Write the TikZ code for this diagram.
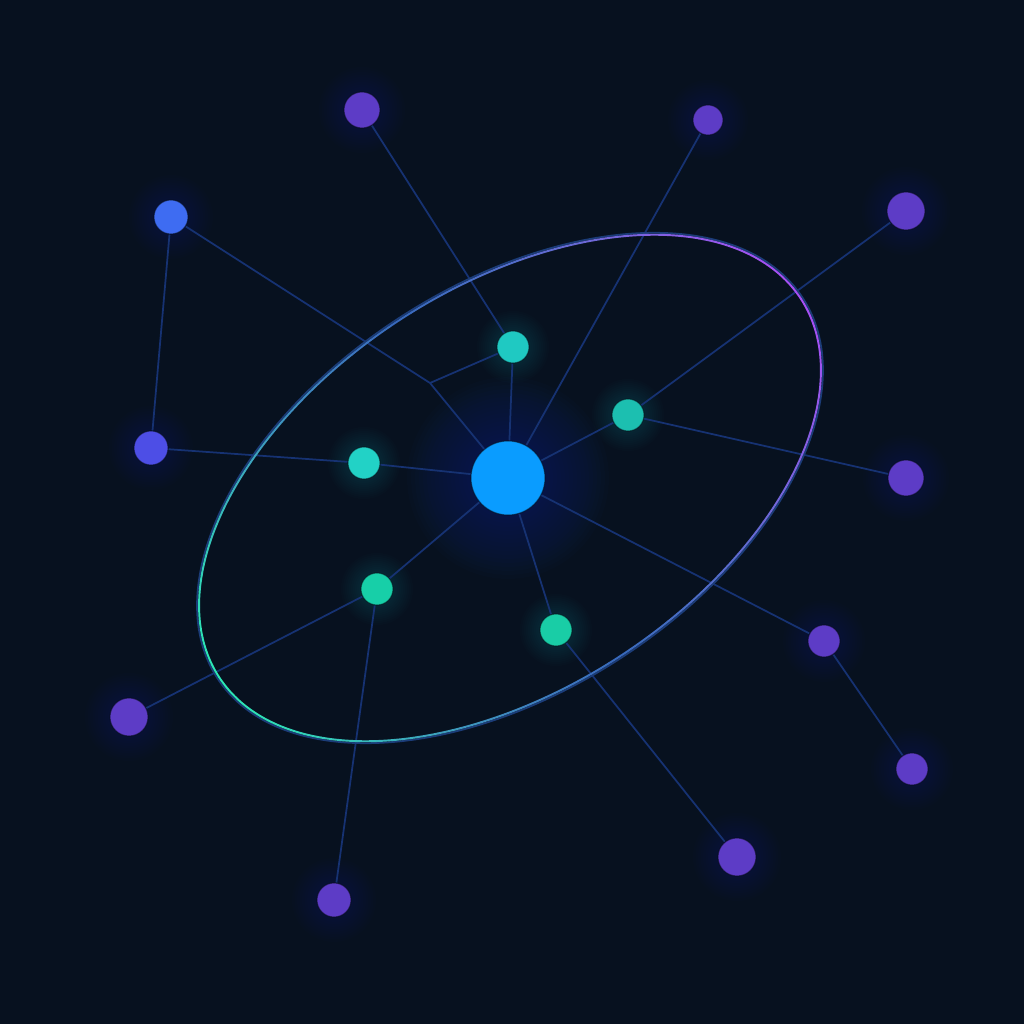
\documentclass[tikz,border=0pt]{standalone}
\usetikzlibrary{backgrounds}
\definecolor{night}{HTML}{07111F}
\definecolor{coreblue}{HTML}{0A9CFF}
\definecolor{tealA}{HTML}{1FC9C2}
\definecolor{tealB}{HTML}{1CBFB0}
\definecolor{tealC}{HTML}{22D2C6}
\definecolor{mintA}{HTML}{17CFA8}
\definecolor{mintB}{HTML}{19CDA6}
\definecolor{royal}{HTML}{3E6CF2}
\definecolor{indigo}{HTML}{4D4EE6}
\definecolor{grape}{HTML}{5D3CC6}
\definecolor{linkblue}{HTML}{163272}
\definecolor{glowblue}{HTML}{1F46C8}
\definecolor{glowteal}{HTML}{1FC9B0}
\definecolor{ringteal}{HTML}{2CE6B5}
\definecolor{ringblue}{HTML}{2858B4}
\definecolor{ringpurple}{HTML}{A650F4}
\pgfdeclarelayer{back}
\pgfdeclarelayer{glow}
\pgfdeclarelayer{links}
\pgfsetlayers{back,glow,links,main}

\begin{document}
\begin{tikzpicture}[
  dot/.style={circle, inner sep=0pt, draw=night!60!black, draw opacity=0.5, line width=0.3pt},
  hub/.style={dot, fill=coreblue, minimum size=7.4mm},
  inner/.style={dot, minimum size=3.2mm},
  outer/.style={dot, fill=grape},
  link/.style={linkblue, line width=0.5pt},
]

% Background
\begin{pgfonlayer}{back}
\fill[night] (0,0) rectangle (10.24,10.24);
\end{pgfonlayer}
\useasboundingbox (0,0) rectangle (10.24,10.24);

% Hub and inner ring of nodes
\node[hub] (hub) at (5.08,5.46) {};
\node[inner, fill=tealA] (n1) at (5.13,6.77) {};
\node[inner, fill=tealB] (n2) at (6.28,6.09) {};
\node[inner, fill=tealC] (n3) at (3.64,5.61) {};
\node[inner, fill=mintA] (n4) at (3.77,4.35) {};
\node[inner, fill=mintB] (n5) at (5.56,3.94) {};
\coordinate (j) at (4.30,6.41);

% Outer nodes
\node[outer, minimum size=3.6mm] (p1) at (3.62,9.14) {};
\node[outer, minimum size=3.0mm] (p2) at (7.08,9.04) {};
\node[outer, fill=royal, minimum size=3.4mm] (p3) at (1.71,8.07) {};
\node[outer, minimum size=3.8mm] (p4) at (9.06,8.13) {};
\node[outer, fill=indigo, minimum size=3.4mm] (p5) at (1.51,5.76) {};
\node[outer, minimum size=3.6mm] (p6) at (9.06,5.46) {};
\node[outer, minimum size=3.8mm] (p7) at (1.29,3.07) {};
\node[outer, minimum size=3.2mm] (p8) at (8.24,3.83) {};
\node[outer, minimum size=3.2mm] (p9) at (9.12,2.55) {};
\node[outer, minimum size=3.8mm] (p10) at (7.37,1.67) {};
\node[outer, minimum size=3.4mm] (p11) at (3.34,1.24) {};

% Glows
\begin{pgfonlayer}{glow}
\foreach \k in {1,...,16}
  \fill[glowblue, opacity=0.018] (hub) circle ({0.37+0.04*\k});
\foreach \n in {n1,n2,n3,n4,n5}
  \foreach \k in {1,...,10}
    \fill[glowteal, opacity=0.016] (\n) circle ({0.16+0.02*\k});
\foreach \n/\r in {p1/0.18, p2/0.15, p3/0.17, p4/0.19, p5/0.17, p6/0.18,
                   p7/0.19, p8/0.16, p9/0.16, p10/0.19, p11/0.17}
  \foreach \k in {1,...,10}
    \fill[glowblue, opacity=0.014] (\n) circle ({\r+0.025*\k});
\end{pgfonlayer}

% Links
\begin{pgfonlayer}{links}
\foreach \a/\b in {hub/n1, hub/n2, hub/n3, hub/n4, hub/n5, hub/p2, hub/p8,
                   p1/n1, p3/j, j/n1, j/hub, p3/p5, p5/n3, p4/n2, n2/p6,
                   p8/p9, n5/p10, n4/p7, n4/p11}
  \draw[link] (\a) -- (\b);

% Orbit ring
\begin{scope}[shift={(5.10,5.36)}, rotate=33]
  \draw[ringblue!60!night, line width=0.5pt] (0,0) ellipse [x radius=3.49, y radius=2.03];
  \foreach \t in {0,4,...,356} {
    \pgfmathsetmacro\pmix{50+50*cos(\t+2)}
    \pgfmathsetmacro\qmix{25+75*abs(cos(\t+2))}
    \draw[ringpurple!\pmix!ringteal!\qmix!ringblue, line width=0.55pt, line cap=round]
      (\t:3.47 and 2.01) arc[start angle=\t, end angle=\t+4, x radius=3.47, y radius=2.01];
  }
\end{scope}
\end{pgfonlayer}

\end{tikzpicture}
\end{document}
